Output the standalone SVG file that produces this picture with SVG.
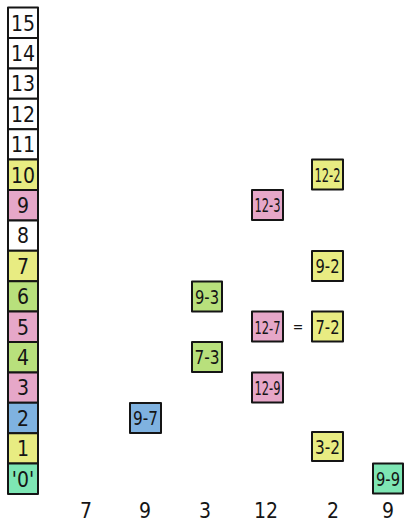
<svg xmlns="http://www.w3.org/2000/svg" width="405" height="522" viewBox="0 0 405 522">
<style>
rect.b{stroke:#151515;stroke-width:2;stroke-linejoin:round}
.w{fill:#ffffff}.y{fill:#e8ec82}.p{fill:#e6a7c8}.g{fill:#b8e07c}.bl{fill:#7fb2e0}.t{fill:#7ee6b4}
text{font-family:"Liberation Sans Narrow","DejaVu Sans Condensed","Liberation Sans",sans-serif;fill:#151515;text-anchor:middle}
.n{font-size:21px}
.s{font-size:19px}
.c{font-size:21px}
</style>
<g id="column">
<g id="n15"><rect class="b w" x="8" y="7.6" width="30" height="30.4"/><text class="n" x="23" y="30.5">15</text></g>
<g id="n14"><rect class="b w" x="8" y="38" width="30" height="30.4"/><text class="n" x="23" y="60.9">14</text></g>
<g id="n13"><rect class="b w" x="8" y="68.4" width="30" height="30.4"/><text class="n" x="23" y="91.3">13</text></g>
<g id="n12"><rect class="b w" x="8" y="98.8" width="30" height="30.4"/><text class="n" x="23" y="121.7">12</text></g>
<g id="n11"><rect class="b w" x="8" y="129.2" width="30" height="30.4"/><text class="n" x="23" y="152.1">11</text></g>
<g id="n10"><rect class="b y" x="8" y="159.6" width="30" height="30.4"/><text class="n" x="23" y="182.5">10</text></g>
<g id="n9"><rect class="b p" x="8" y="190" width="30" height="30.4"/><text class="n" x="23" y="212.9">9</text></g>
<g id="n8"><rect class="b w" x="8" y="220.4" width="30" height="30.4"/><text class="n" x="23" y="243.3">8</text></g>
<g id="n7"><rect class="b y" x="8" y="250.8" width="30" height="30.4"/><text class="n" x="23" y="273.7">7</text></g>
<g id="n6"><rect class="b g" x="8" y="281.2" width="30" height="30.4"/><text class="n" x="23" y="304.1">6</text></g>
<g id="n5"><rect class="b p" x="8" y="311.6" width="30" height="30.4"/><text class="n" x="23" y="334.5">5</text></g>
<g id="n4"><rect class="b g" x="8" y="342" width="30" height="30.4"/><text class="n" x="23" y="364.9">4</text></g>
<g id="n3"><rect class="b p" x="8" y="372.4" width="30" height="30.4"/><text class="n" x="23" y="395.3">3</text></g>
<g id="n2"><rect class="b bl" x="8" y="402.8" width="30" height="30.4"/><text class="n" x="23" y="425.7">2</text></g>
<g id="n1"><rect class="b y" x="8" y="433.2" width="30" height="30.4"/><text class="n" x="23" y="456.1">1</text></g>
<g id="n0"><rect class="b t" x="8" y="463.6" width="30" height="30.4"/><text class="n" x="23" y="486.5">'0'</text></g>
</g>
<g id="d9-7"><rect class="b bl" x="130" y="403" width="31" height="30"/><text class="s" x="145.5" y="425" textLength="25" lengthAdjust="spacingAndGlyphs">9-7</text></g>
<g id="d9-3"><rect class="b g" x="192" y="281.5" width="30" height="30"/><text class="s" x="207" y="303.5" textLength="24" lengthAdjust="spacingAndGlyphs">9-3</text></g>
<g id="d7-3"><rect class="b g" x="192" y="342" width="30" height="30"/><text class="s" x="207" y="364" textLength="25" lengthAdjust="spacingAndGlyphs">7-3</text></g>
<g id="d12-7"><rect class="b p" x="252" y="311.5" width="31" height="30"/><text class="s" x="267.5" y="333.5" textLength="26" lengthAdjust="spacingAndGlyphs" style="font-size:18px">12-7</text></g>
<g id="d12-9"><rect class="b p" x="252" y="372.5" width="31" height="30"/><text class="s" x="267.5" y="394.5" textLength="26" lengthAdjust="spacingAndGlyphs">12-9</text></g>
<g id="d12-3"><rect class="b p" x="252" y="190" width="31" height="30"/><text class="s" x="267.5" y="212" textLength="26" lengthAdjust="spacingAndGlyphs">12-3</text></g>
<g id="d12-2"><rect class="b y" x="312" y="159.5" width="31" height="30"/><text class="s" x="327.5" y="181.5" textLength="26" lengthAdjust="spacingAndGlyphs">12-2</text></g>
<g id="d9-2"><rect class="b y" x="312" y="251" width="31" height="30"/><text class="s" x="327.5" y="273" textLength="24" lengthAdjust="spacingAndGlyphs">9-2</text></g>
<g id="d7-2"><rect class="b y" x="312" y="311.5" width="31" height="30"/><text class="s" x="327.5" y="333.5" textLength="24" lengthAdjust="spacingAndGlyphs">7-2</text></g>
<g id="d3-2"><rect class="b y" x="312" y="432" width="31" height="29"/><text class="s" x="327.5" y="453.5" textLength="25" lengthAdjust="spacingAndGlyphs">3-2</text></g>
<g id="d9-9"><rect class="b t" x="373" y="463.5" width="30" height="30"/><text class="s" x="388" y="485.5" textLength="24" lengthAdjust="spacingAndGlyphs">9-9</text></g>
<g id="connectors"></g>
<text x="298" y="332" style="font-size:14px">=</text>
<g id="labels">
<text class="c" x="86" y="518">7</text>
<text class="c" x="145" y="518">9</text>
<text class="c" x="205" y="518">3</text>
<text class="c" x="266" y="518">12</text>
<text class="c" x="333" y="518">2</text>
<text class="c" x="388" y="518">9</text>
</g>
</svg>
